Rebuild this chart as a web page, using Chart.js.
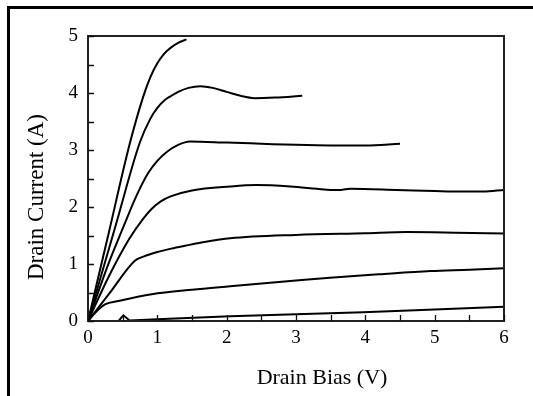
<!DOCTYPE html>
<html>
<head>
<meta charset="utf-8">
<script src="https://cdn.jsdelivr.net/npm/chart.js@4/dist/chart.umd.min.js"></script>
<style>
  html, body { margin: 0; padding: 0; background: #fff; }
  #wrap { position: relative; width: 533px; height: 396px; }
</style>
</head>
<body>
<div id="wrap"><canvas id="chart" width="533" height="396"></canvas></div>
<script>
// Drain bias (V) / drain current (A), one pair of arrays per gate curve, top to bottom
const curve1V = [0, 0.3, 0.6, 0.8, 0.9, 1.0, 1.1, 1.2, 1.3, 1.42];
const curve1I = [0, 1.55, 3.1, 3.95, 4.28, 4.52, 4.69, 4.8, 4.88, 4.94];

const curve2V = [0, 0.4, 0.75, 0.9, 1.0, 1.1, 1.2, 1.3, 1.45, 1.62, 1.8, 2.0, 2.2, 2.4, 2.7, 3.09];
const curve2I = [0, 1.68, 3.14, 3.55, 3.74, 3.87, 3.95, 4.02, 4.09, 4.12, 4.09, 4.02, 3.95, 3.91, 3.92, 3.95];

const curve3V = [0, 0.3, 0.5, 0.7, 0.87, 1.0, 1.14, 1.3, 1.47, 2.0, 2.5, 3.0, 3.5, 4.0, 4.5];
const curve3I = [0, 1.02, 1.62, 2.2, 2.6, 2.81, 2.97, 3.09, 3.15, 3.13, 3.11, 3.09, 3.08, 3.08, 3.11];

const curve4V = [0, 0.3, 0.6, 0.8, 0.92, 1.05, 1.2, 1.5, 2.05, 2.43, 2.92, 3.3, 3.5, 3.64, 3.78, 4.45, 5.0, 5.41, 5.7, 6.0];
const curve4I = [0, 0.78, 1.45, 1.8, 1.97, 2.1, 2.19, 2.29, 2.36, 2.385, 2.36, 2.32, 2.3, 2.3, 2.32, 2.3, 2.28, 2.27, 2.27, 2.3];

const curve5V = [0, 0.3, 0.68, 0.8, 1.0, 1.2, 1.4, 1.7, 2.05, 3.0, 4.0, 4.6, 5.3, 6.0];
const curve5I = [0, 0.47, 1.06, 1.13, 1.21, 1.27, 1.32, 1.39, 1.45, 1.51, 1.54, 1.56, 1.55, 1.535];

const curve6V = [0, 0.1, 0.245, 0.44, 0.92, 1.5, 2.05, 3.0, 3.49, 4.2, 4.94, 5.5, 6.0];
const curve6I = [0, 0.14, 0.29, 0.35, 0.47, 0.55, 0.61, 0.71, 0.76, 0.82, 0.877, 0.9, 0.925];

const curve7V = [0, 0.44, 0.51, 0.6, 1.0, 2.05, 3.0, 3.97, 5.0, 6.0];
const curve7I = [0, 0, 0.1, 0.01, 0.03, 0.085, 0.12, 0.155, 0.2, 0.25];

const curves = [
  [curve1V, curve1I],
  [curve2V, curve2I],
  [curve3V, curve3I],
  [curve4V, curve4I],
  [curve5V, curve5I],
  [curve6V, curve6I],
  [curve7V, curve7I],
];

const xTitle = "Drain Bias (V)";
const yTitle = "Drain Current (A)";
const SERIF = '"Liberation Serif", "Times New Roman", serif';

/**
 * Outer frame, plot box, inward tick marks and axis titles.
 */
const framePlugin = {
  id: "frame",
  afterDraw(chart) {
    const { ctx, chartArea: a, scales } = chart;
    ctx.save();

    // page frame: top and left edges only
    ctx.fillStyle = "#000";
    ctx.fillRect(7, 6, 526, 3);
    ctx.fillRect(7, 6, 3, 390);

    // plot box
    ctx.strokeStyle = "#222";
    ctx.lineWidth = 2;
    ctx.strokeRect(a.left, a.top, a.right - a.left, a.bottom - a.top);

    // inward ticks
    ctx.lineWidth = 1.3;
    ctx.strokeStyle = "#111";
    ctx.beginPath();
    scales.x.ticks.forEach((t) => {
      const px = Math.round(scales.x.getPixelForValue(t.value)) + 0.5;
      ctx.moveTo(px, a.bottom);
      ctx.lineTo(px, a.bottom - 6);
    });
    scales.y.ticks.forEach((t) => {
      const py = Math.round(scales.y.getPixelForValue(t.value)) + 0.5;
      ctx.moveTo(a.left, py);
      ctx.lineTo(a.left + 6, py);
    });
    ctx.stroke();

    // axis titles
    ctx.fillStyle = "#000";
    ctx.font = "22px " + SERIF;
    ctx.textAlign = "center";
    ctx.textBaseline = "middle";
    ctx.fillText(xTitle, 322, 378);
    ctx.font = "23px " + SERIF;
    ctx.translate(37, 197);
    ctx.rotate(-Math.PI / 2);
    ctx.fillText(yTitle, 0, 0);

    ctx.restore();
  },
};

new Chart(document.getElementById("chart"), {
  type: "line",
  data: {
    datasets: curves.map(([vs, is], i) => ({
      data: vs.map((v, k) => ({ x: v, y: is[k] })),
      borderColor: "#000",
      borderWidth: 2,
      pointRadius: 0,
      fill: false,
      cubicInterpolationMode: i === 6 ? "default" : "monotone",
      tension: 0,
    })),
  },
  options: {
    responsive: false,
    animation: false,
    devicePixelRatio: 1,
    layout: { padding: { left: 0, top: 36, right: 29, bottom: 0 } },
    plugins: {
      legend: { display: false },
      tooltip: { enabled: false },
    },
    scales: {
      x: {
        type: "linear",
        min: 0,
        max: 6,
        grid: { display: false, drawTicks: false },
        border: { display: false },
        ticks: {
          stepSize: 0.5,
          autoSkip: false,
          maxRotation: 0,
          padding: 6,
          color: "#000",
          font: { family: SERIF, size: 19 },
          callback: (val) => (Number.isInteger(val) ? val : ""),
        },
        afterFit: (scale) => {
          scale.height = 75;
        },
      },
      y: {
        type: "linear",
        min: 0,
        max: 5,
        grid: { display: false, drawTicks: false },
        border: { display: false },
        ticks: {
          stepSize: 0.5,
          autoSkip: false,
          padding: 10,
          color: "#000",
          font: { family: SERIF, size: 19 },
          callback: (val) => (Number.isInteger(val) ? val : ""),
        },
        afterFit: (scale) => {
          scale.width = 88;
        },
      },
    },
  },
  plugins: [framePlugin],
});
</script>
</body>
</html>
